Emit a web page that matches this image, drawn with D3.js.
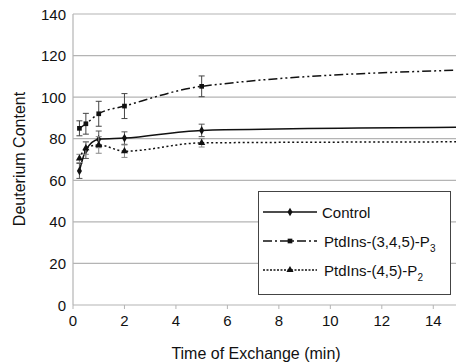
<!DOCTYPE html>
<html>
<head>
<meta charset="utf-8">
<script src="https://cdn.jsdelivr.net/npm/d3@7"></script>
<style>
  body { margin: 0; background: #fff; }
  text { font-family: "Liberation Sans", Arial, sans-serif; fill: #111; }
</style>
</head>
<body>
<div id="chart"></div>
<script>
// values
const times = [0.25, 0.5, 1, 2, 5, 15];
const control = [64.5, 74.5, 79.7, 80.3, 84, 85.5];
const controlErr = [3.6, 4, 4, 3, 3, null];
const p3 = [85, 87.2, 92, 95.7, 105.2, 113];
const p3Err = [3.6, 5, 6, 6, 5, null];
const p2 = [70.5, 75.5, 77, 74, 78, 78.5];
const p2Err = [2, 3, 4, 3, 2, null];
const yTicks = [0, 20, 40, 60, 80, 100, 120, 140];
const xTicks = [0, 2, 4, 6, 8, 10, 12, 14];

const W = 456, H = 362;
const margin = {top: 14, bottom: 57, left: 73, right: 0};

const svg = d3.select('#chart').append('svg')
   .attr('width', W)
   .attr('height', H);

const x = d3.scaleLinear().domain([0, 15]).range([margin.left, 459]);
const y = d3.scaleLinear().domain([0, 140]).range([H - margin.bottom, margin.top]);

// gridlines
svg.append('g')
   .selectAll('line')
   .data(yTicks)
   .join('line')
   .attr('x1', margin.left).attr('x2', W)
   .attr('y1', d => y(d)).attr('y2', d => y(d))
   .attr('stroke', '#b4b4b4')
   .attr('stroke-width', 1.2);

// y axis line
svg.append('line')
   .attr('x1', margin.left).attr('x2', margin.left)
   .attr('y1', y(140)).attr('y2', y(0))
   .attr('stroke', '#b4b4b4').attr('stroke-width', 1.2);

// x tick marks
svg.append('g')
   .selectAll('line')
   .data(xTicks)
   .join('line')
   .attr('x1', d => x(d)).attr('x2', d => x(d))
   .attr('y1', y(0)).attr('y2', y(0) + 4)
   .attr('stroke', '#b4b4b4');

// tick labels
svg.append('g')
   .selectAll('text')
   .data(yTicks)
   .join('text')
   .attr('x', 66)
   .attr('y', d => y(d) + 5.5)
   .attr('text-anchor', 'end')
   .style('font-size', '15px')
   .text(d => d);

svg.append('g')
   .selectAll('text')
   .data(xTicks)
   .join('text')
   .attr('x', d => x(d))
   .attr('y', 326)
   .attr('text-anchor', 'middle')
   .style('font-size', '15px')
   .text(d => d);

// axis titles
svg.append('text')
   .attr('transform', 'translate(25,159) rotate(-90)')
   .attr('text-anchor', 'middle')
   .style('font-size', '16px')
   .text('Deuterium Content');

svg.append('text')
   .attr('x', 256)
   .attr('y', 359)
   .attr('text-anchor', 'middle')
   .style('font-size', '16px')
   .text('Time of Exchange (min)');

const series = [
   {name: 'Control', vals: control, err: controlErr, dash: null, marker: 'diamond', errColor: '#555'},
   {name: 'P3', vals: p3, err: p3Err, dash: '9,3,2,3,2,3', marker: 'square', errColor: '#444'},
   {name: 'P2', vals: p2, err: p2Err, dash: '2,2.5', marker: 'triangle', errColor: '#888'}
];

svg.append('clipPath').attr('id', 'clip')
   .append('rect')
   .attr('x', margin.left).attr('y', 0)
   .attr('width', W - margin.left).attr('height', y(0));

const plot = svg.append('g').attr('clip-path', 'url(#clip)');

const line = d3.line()
   .x(d => x(d[0]))
   .y(d => y(d[1]))
   .curve(d3.curveMonotoneX);

function symbolFor(m) {
   if (m === 'diamond') return d3.symbol().type(d3.symbolDiamond).size(22);
   if (m === 'square') return d3.symbol().type(d3.symbolSquare).size(22);
   return d3.symbol().type(d3.symbolTriangle).size(22);
}

series.forEach(s => {
   const pts = times.map((t, i) => [t, s.vals[i], s.err[i]]);

   // error bars
   const eb = plot.append('g')
      .attr('stroke', s.errColor)
      .attr('stroke-width', 1);
   pts.filter(d => d[2] != null).forEach(d => {
      const cx = x(d[0]);
      eb.append('line')
         .attr('x1', cx).attr('x2', cx)
         .attr('y1', y(d[1] - d[2])).attr('y2', y(d[1] + d[2]));
      [d[1] - d[2], d[1] + d[2]].forEach(v => {
         eb.append('line')
            .attr('x1', cx - 3).attr('x2', cx + 3)
            .attr('y1', y(v)).attr('y2', y(v));
      });
   });

   plot.append('path')
      .datum(pts)
      .attr('d', line)
      .attr('fill', 'none')
      .attr('stroke', '#111')
      .attr('stroke-width', 1.5)
      .attr('stroke-dasharray', s.dash);

   plot.append('g')
      .selectAll('path')
      .data(pts.filter(d => d[2] != null))
      .join('path')
      .attr('d', symbolFor(s.marker))
      .attr('transform', d => `translate(${x(d[0])},${y(d[1])})`)
      .attr('fill', '#111');
});

// legend
const legend = svg.append('g');
legend.append('rect')
   .attr('x', 258.5).attr('y', 191.5)
   .attr('width', 192).attr('height', 103)
   .attr('fill', '#fff')
   .attr('stroke', '#444')
   .attr('stroke-width', 1);

const legendItems = [
   {label: 'Control', sub: '', dash: null, marker: 'diamond', ly: 212},
   {label: 'PtdIns-(3,4,5)-P', sub: '3', dash: '9,3,2,3', marker: 'square', ly: 241},
   {label: 'PtdIns-(4,5)-P', sub: '2', dash: '2,1.5', marker: 'triangle', ly: 270}
];

legendItems.forEach(it => {
   legend.append('line')
      .attr('x1', 263).attr('x2', 317)
      .attr('y1', it.ly).attr('y2', it.ly)
      .attr('stroke', '#111')
      .attr('stroke-width', 1.5)
      .attr('stroke-dasharray', it.dash);
   legend.append('path')
      .attr('d', symbolFor(it.marker))
      .attr('transform', `translate(290,${it.ly})`)
      .attr('fill', '#111');
   const t = legend.append('text')
      .attr('x', it.sub ? 324 : 322)
      .attr('y', it.ly + 5.5)
      .style('font-size', '15px')
      .text(it.label);
   if (it.sub) {
      t.append('tspan')
         .attr('dy', 5)
         .style('font-size', '10px')
         .text(it.sub);
   }
});
</script>
</body>
</html>
